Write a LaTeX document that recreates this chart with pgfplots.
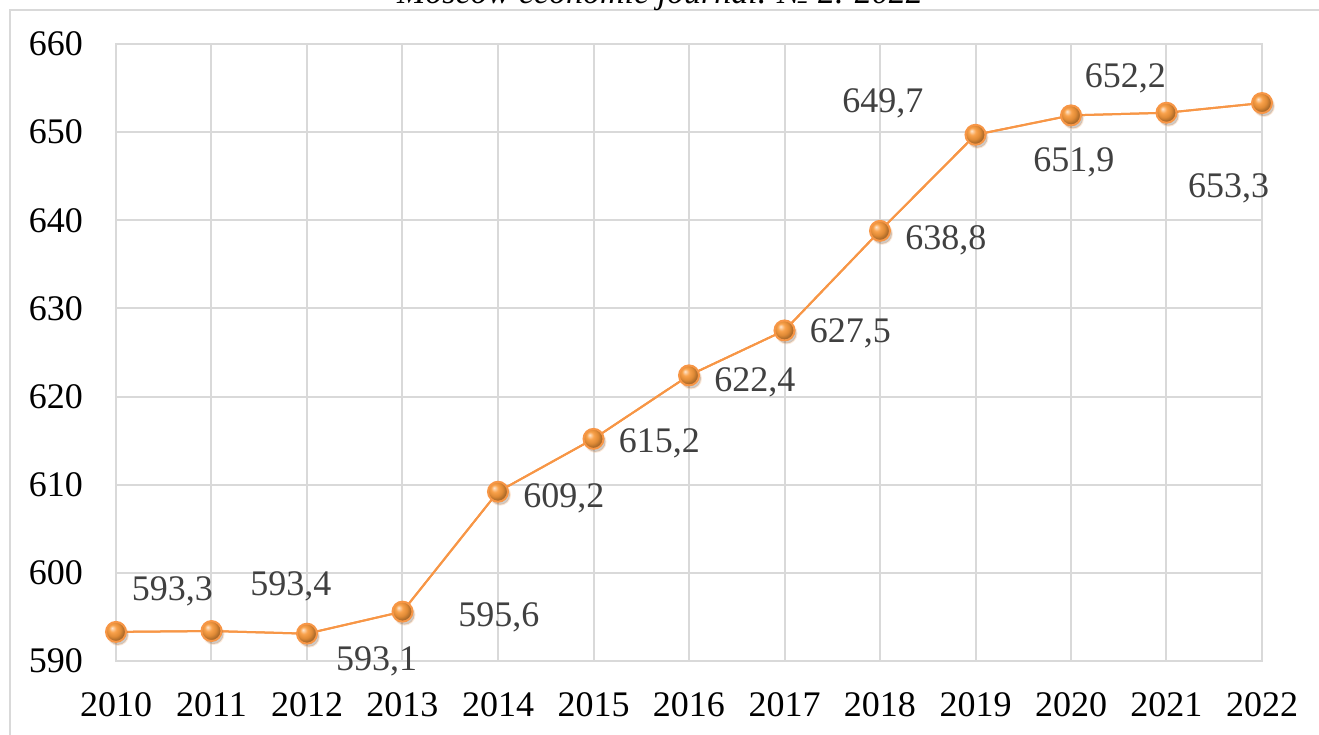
\documentclass[border=0pt]{standalone}
\usepackage{pgfplots}
\pgfplotsset{compat=1.18}
\usepackage{fontspec}
\setmainfont{Liberation Serif}

\definecolor{lineorange}{HTML}{F79646}
\definecolor{ballorange}{HTML}{F99A3C}
\definecolor{gridgray}{HTML}{D9D9D9}
\definecolor{labelgray}{HTML}{404040}

% softer ball shading, less black at the rim
\makeatletter
\pgfdeclareradialshading[tikz@ball]{ball}{\pgfqpoint{-10bp}{10bp}}{%
  color(0bp)=(tikz@ball!25!white); color(9bp)=(tikz@ball!92!white);
  color(18bp)=(tikz@ball!90!black); color(25bp)=(tikz@ball!70!black);
  color(50bp)=(tikz@ball!35!black)}
\makeatother

\begin{document}
\begin{tikzpicture}
\useasboundingbox (0,0) rectangle (1319pt,735pt);
\clip (0,0) rectangle (1319pt,735pt);
% outer frame, cut off at the right and bottom
\draw[gridgray, line width=2pt] (10pt,-30pt) rectangle (1350pt,725pt);
\node[anchor=base, inner sep=0pt, font=\fontsize{34}{38}\selectfont\itshape]
  at (660pt,731pt) {Moscow economic journal. № 2. 2022};

\begin{axis}[
  at={(116pt,74pt)}, anchor=south west,
  scale only axis,
  width=1146pt, height=617pt,
  xmin=2010, xmax=2022,
  ymin=590, ymax=660,
  xtick={2010,2011,...,2022},
  ytick={590,600,...,660},
  grid=major,
  grid style={gridgray, line width=2pt},
  axis line style={gridgray, line width=2pt},
  major tick length=0pt,
  tick label style={font=\fontsize{36}{40}\selectfont, inner sep=0pt},
  /pgf/number format/assume math mode=true,
  /pgf/number format/1000 sep={},
  xticklabel style={anchor=base, yshift=-56pt},
  yticklabel style={anchor=east, xshift=-33pt},
  clip=false,
]
\addplot[lineorange, line width=2pt, mark=*,
  mark options={draw=none, fill=black, opacity=0.2, xshift=2pt, yshift=-3pt}, mark size=10pt,
  forget plot]
  coordinates {
  (2010,593.3) (2011,593.4) (2012,593.1) (2013,595.6) (2014,609.2)
  (2015,615.2) (2016,622.4) (2017,627.5) (2018,638.8) (2019,649.7)
  (2020,651.9) (2021,652.2) (2022,653.3)
};
\addplot[lineorange, line width=2pt, mark=ball,
  mark options={ball color=ballorange}, mark size=10pt]
  coordinates {
  (2010,593.3) (2011,593.4) (2012,593.1) (2013,595.6) (2014,609.2)
  (2015,615.2) (2016,622.4) (2017,627.5) (2018,638.8) (2019,649.7)
  (2020,651.9) (2021,652.2) (2022,653.3)
};
\begin{scope}[every node/.style={anchor=base, yshift=-12pt, inner sep=0pt,
    text=labelgray, font=\fontsize{36}{40}\selectfont}]
\node at (axis cs:2010.59,598.17) {593,3};
\node at (axis cs:2011.83,598.74) {593,4};
\node at (axis cs:2012.73,590.34) {593,1};
\node at (axis cs:2014.01,595.33) {595,6};
\node at (axis cs:2014.69,608.72) {609,2};
\node at (axis cs:2015.69,615.07) {615,2};
\node at (axis cs:2016.69,621.88) {622,4};
\node at (axis cs:2017.69,627.55) {627,5};
\node at (axis cs:2018.69,638.10) {638,8};
\node at (axis cs:2018.03,653.54) {649,7};
\node at (axis cs:2020.03,646.84) {651,9};
\node at (axis cs:2020.57,656.37) {652,2};
\node at (axis cs:2021.65,643.89) {653,3};
\end{scope}
\end{axis}
\end{tikzpicture}
\end{document}
